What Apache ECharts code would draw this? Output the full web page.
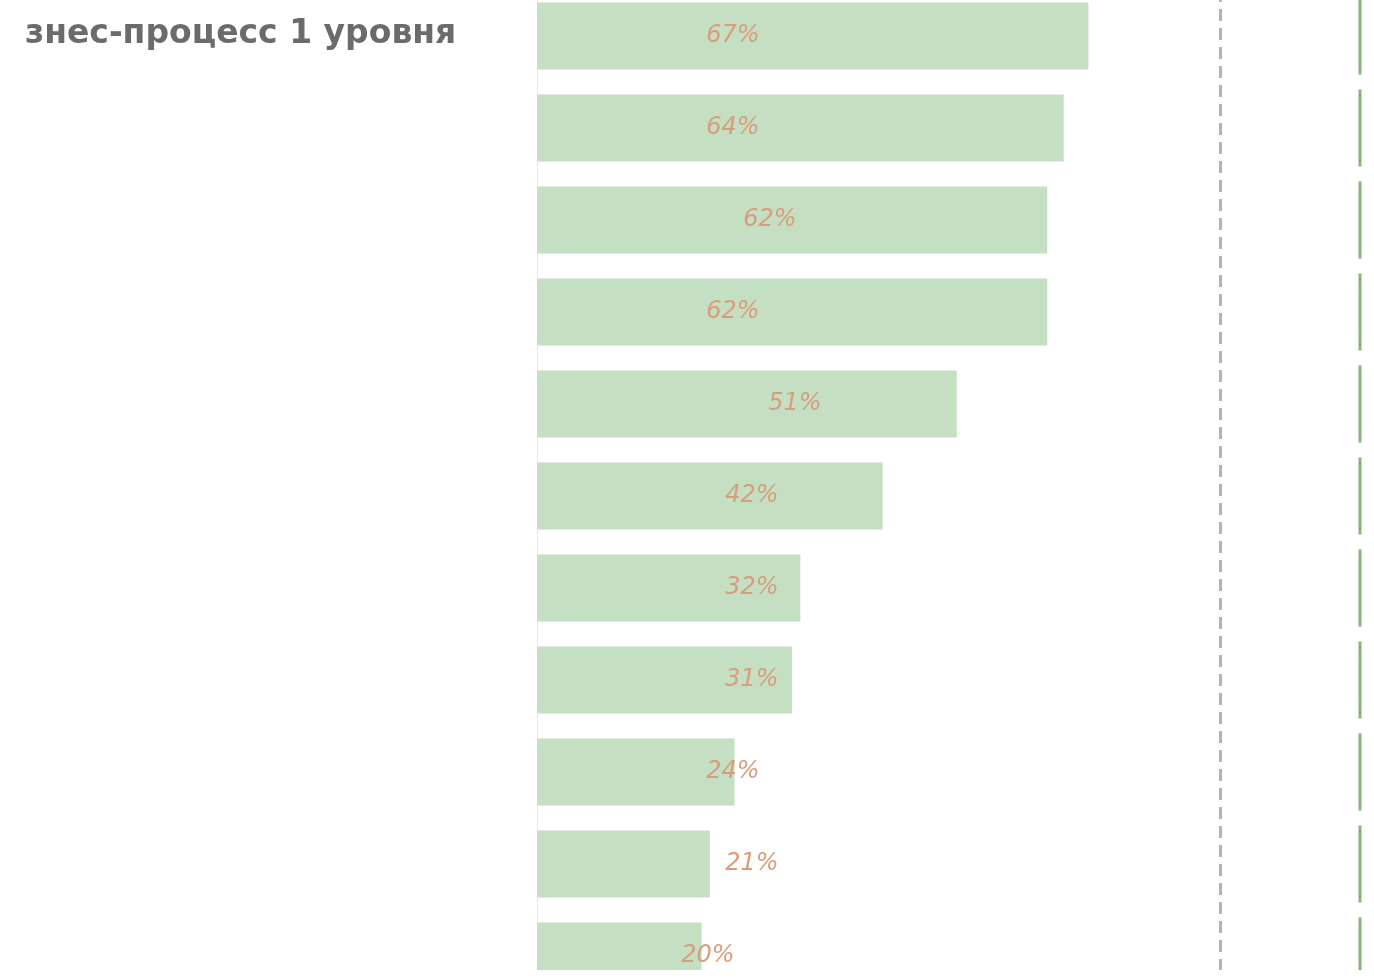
<!DOCTYPE html>
<html>
<head>
<meta charset="utf-8">
<script src="https://cdn.jsdelivr.net/npm/echarts@6/dist/echarts.min.js"></script>
<style>
  html, body { margin: 0; padding: 0; background: #ffffff; }
  #wrap { position: relative; width: 1374px; height: 970px; overflow: hidden; }
  #chart { position: absolute; left: 0; top: -10px; width: 1374px; height: 1012px; }
</style>
</head>
<body>
<div id="wrap"><div id="chart"></div></div>
<script>
// ---- data ----
const categories = ['1', '2', '3', '4', '5', '6', '7', '8', '9', '10', '11'];
const values = [67, 64, 62, 62, 51, 42, 32, 31, 24, 21, 20];
const targetValue = 83;
const maxMarkValue = 100;
const headerText = 'знес-процесс 1 уровня';

// ---- styles ----
const labelCenterPx = [196, 196, 233, 196, 258, 215, 215, 215, 196, 215, 171];

const chart = echarts.init(document.getElementById('chart'));

const barData = values.map((v, i) => ({
  value: v,
  label: { position: [labelCenterPx[i], '50%'] }
}));

chart.setOption({
  animation: false,
  backgroundColor: '#ffffff',
  title: {
    text: headerText,
    left: 20,
    top: 23,
    textStyle: {
      fontFamily: 'DejaVu Sans',
      fontWeight: 'bold',
      fontSize: 33,
      color: '#6b6b6b'
    }
  },
  grid: { left: 537, right: 14, top: 0, bottom: 0, containLabel: false },
  xAxis: {
    type: 'value',
    min: 0,
    max: 100,
    show: false
  },
  yAxis: {
    type: 'category',
    data: categories,
    inverse: true,
    axisLabel: { show: false },
    axisTick: { show: false },
    axisLine: { show: true, lineStyle: { color: '#e2e2e2', type: 'dotted', width: 1 } },
    splitLine: { show: false }
  },
  series: [
    {
      type: 'bar',
      data: barData,
      barCategoryGap: '27%',
      itemStyle: { color: '#c5dfc3' },
      label: {
        show: true,
        align: 'center',
        verticalAlign: 'middle',
        formatter: '{c}%',
        fontFamily: 'DejaVu Sans',
        fontStyle: 'italic',
        fontSize: 24,
        color: '#d99c7c'
      },
      markLine: {
        silent: true,
        symbol: 'none',
        label: { show: false },
        lineStyle: { color: '#b3b3b3', type: [12, 7], width: 3 },
        data: [{ xAxis: targetValue }]
      },
      z: 2
    },
    {
      type: 'scatter',
      data: categories.map(() => maxMarkValue),
      symbol: 'rect',
      symbolSize: [3, 77],
      itemStyle: { color: '#6a9e5e' },
      z: 3
    }
  ]
});
</script>
</body>
</html>
